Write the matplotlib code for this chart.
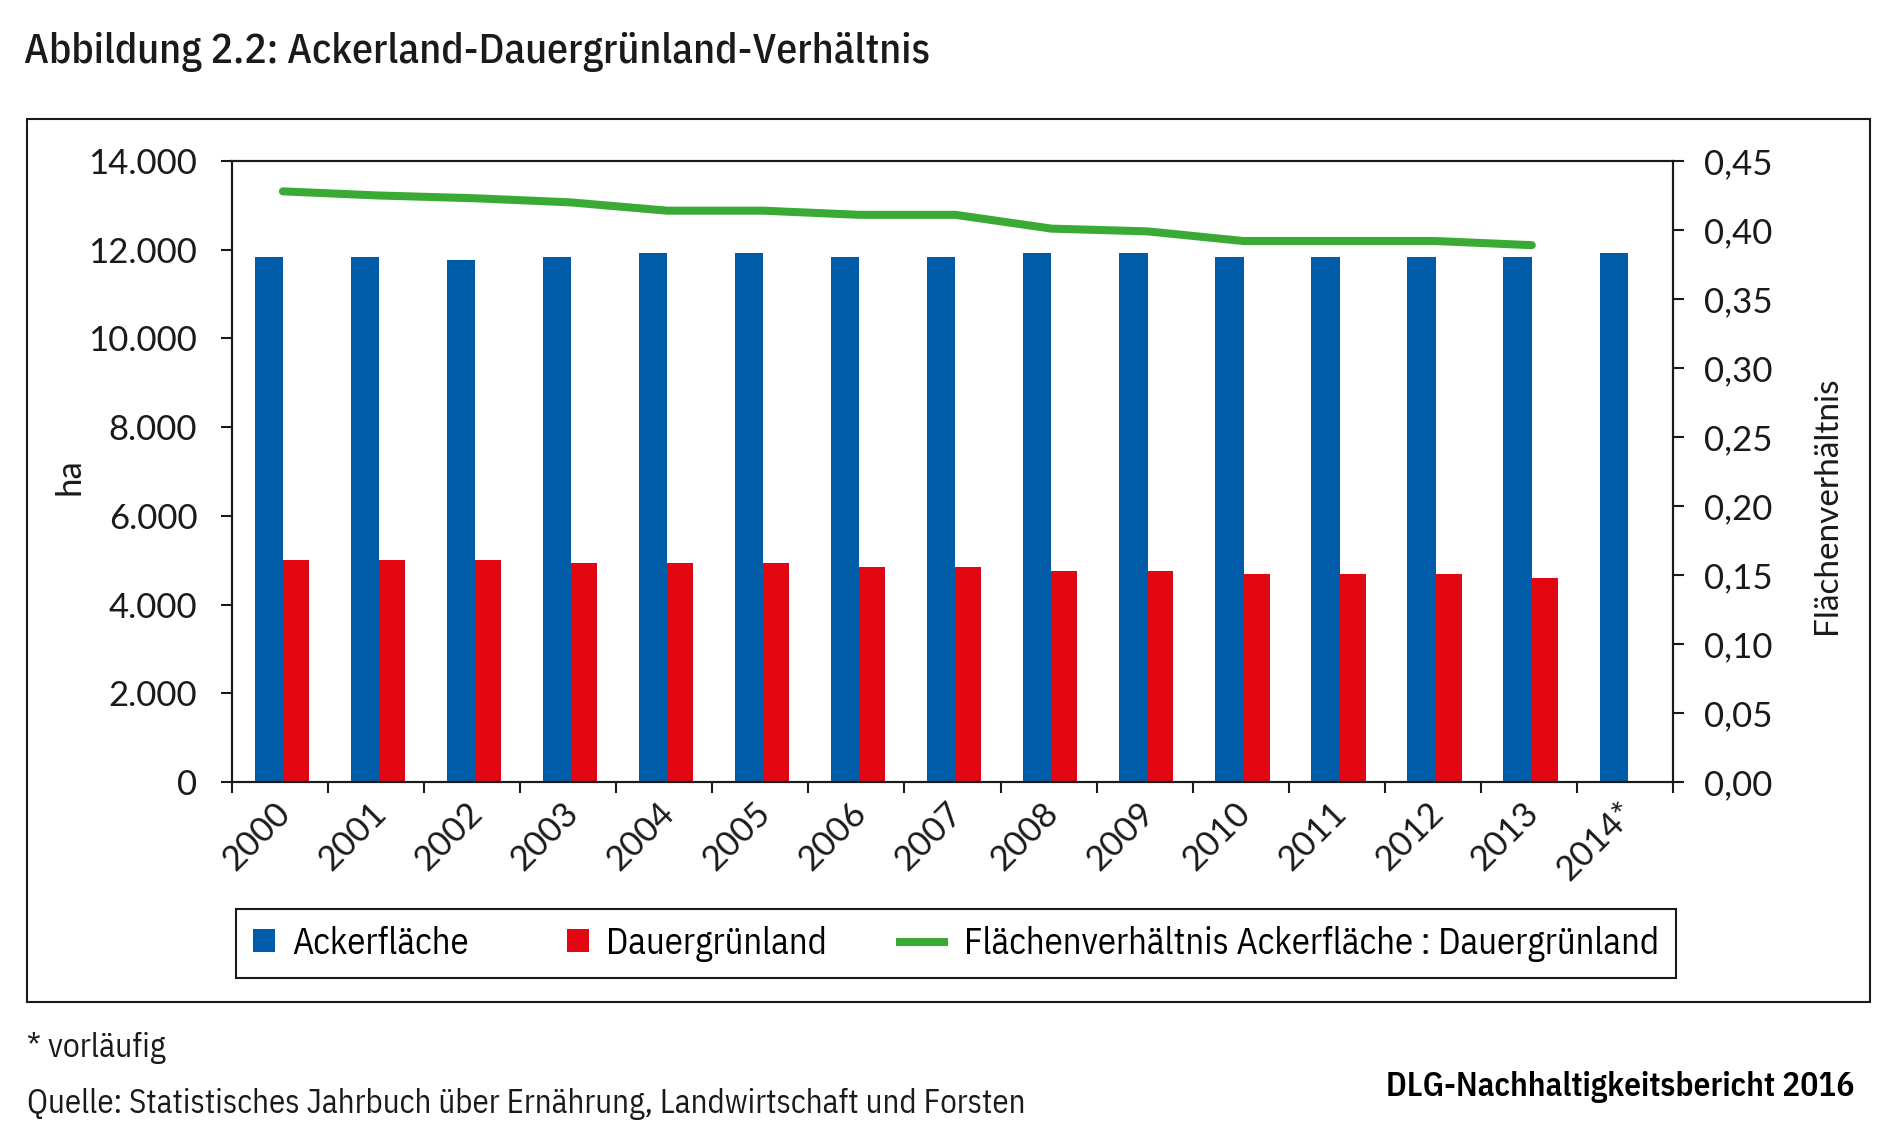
import numpy as np
import matplotlib
matplotlib.use("Agg")
from matplotlib import pyplot as plt
from matplotlib import patches as mpatches
from matplotlib import transforms as mtransforms
from matplotlib.lines import Line2D
from matplotlib.ticker import FuncFormatter

# data
years = ["2000", "2001", "2002", "2003", "2004", "2005", "2006", "2007",
         "2008", "2009", "2010", "2011", "2012", "2013", "2014*"]
ackerflaeche = [11840, 11840, 11760, 11840, 11920, 11920, 11840, 11840,
                11920, 11920, 11840, 11840, 11840, 11840, 11920]
dauergruenland = [5010, 5010, 5010, 4930, 4930, 4930, 4840, 4840,
                  4760, 4760, 4680, 4680, 4680, 4590]
verhaeltnis = [0.428, 0.425, 0.423, 0.420, 0.414, 0.414, 0.411, 0.411,
               0.401, 0.399, 0.392, 0.392, 0.392, 0.389]

BLUE = "#005ca9"
RED = "#e30613"
GREEN = "#3aaa35"
DARK = "#1a1a1a"

NARROW = ["IBM Plex Sans Condensed", "DejaVu Sans"]
TICKFONT = ["Lato", "DejaVu Sans"]

W, H = 1900, 1144
fig = plt.figure(figsize=(W / 100, H / 100), dpi=100)


def fx(px):
    return px / W


def fy(px):
    return 1 - px / H


ax = fig.add_axes([fx(232), fy(782), fx(1673) - fx(232), fy(161) - fy(782)])
x = np.arange(len(years))

ax.bar(x - 0.117, ackerflaeche, width=0.295, color=BLUE, zorder=2)
ax.bar(x[:len(dauergruenland)] + 0.165, dauergruenland, width=0.27, color=RED, zorder=2)

ax.set_xlim(-0.5, len(years) - 0.5)
ax.set_ylim(0, 14000)
ax.set_yticks(range(0, 14001, 2000))
ax.yaxis.set_major_formatter(FuncFormatter(lambda v, p: f"{v:,.0f}".replace(",", ".")))

# tick marks at category borders, labels in the middle
ax.set_xticks(np.arange(-0.5, len(years), 1))
ax.set_xticklabels([])
ax.set_xticks(x, minor=True)
ax.set_xticklabels(years, minor=True)
ax.tick_params(axis="x", which="major", length=8, width=1.5, color=DARK)
ax.tick_params(axis="x", which="minor", length=0, pad=18.5)
shift = mtransforms.ScaledTranslation(5 / 100, 0, fig.dpi_scale_trans)
for lab in ax.get_xticklabels(minor=True):
    lab.set_rotation(45)
    lab.set_ha("right")
    lab.set_va("center")
    lab.set_rotation_mode("anchor")
    lab.set_fontsize(25)
    lab.set_family(TICKFONT)
    lab.set_color(DARK)
    lab.set_transform(lab.get_transform() + shift)

ax.tick_params(axis="y", length=8, width=1.5, pad=17, labelsize=25, color=DARK, labelcolor=DARK)
for lab in ax.get_yticklabels():
    lab.set_family(TICKFONT)

for s in ax.spines.values():
    s.set_linewidth(1.5)
    s.set_color(DARK)

ax2 = ax.twinx()
ax2.plot(x[:len(verhaeltnis)] + 0.03, verhaeltnis, color=GREEN, lw=5.8,
         solid_capstyle="round", zorder=3)
ax2.set_ylim(0, 0.45)
ax2.set_yticks(np.arange(0, 0.451, 0.05))
ax2.yaxis.set_major_formatter(FuncFormatter(lambda v, p: f"{v:.2f}".replace(".", ",")))
ax2.tick_params(axis="y", length=8, width=1.5, pad=14, labelsize=25, color=DARK, labelcolor=DARK)
for lab in ax2.get_yticklabels():
    lab.set_family(TICKFONT)
for s in ax2.spines.values():
    s.set_linewidth(1.5)
    s.set_color(DARK)

# axis titles
fig.text(fx(70), fy(477), "ha", rotation=90, ha="center", va="center",
         fontsize=25, family=TICKFONT, color=DARK)
fig.text(fx(1827), fy(505), "Flächenverhältnis", rotation=90, ha="center", va="center",
         fontsize=24, family=TICKFONT, color=DARK)


# legend: squares fill the short handle box, the line reaches further left
class SquareHandler:
    def legend_artist(self, legend, orig_handle, fontsize, handlebox):
        w, h = handlebox.width, handlebox.height
        sq = mpatches.Rectangle((-handlebox.xdescent, -handlebox.ydescent), w, h,
                                facecolor=orig_handle.get_facecolor(), edgecolor="none")
        handlebox.add_artist(sq)
        return sq


class LineHandler:
    def legend_artist(self, legend, orig_handle, fontsize, handlebox):
        w, h = handlebox.width, handlebox.height
        ln = Line2D([w - 37.5, w], [h / 2, h / 2], color=orig_handle.get_color(),
                    lw=orig_handle.get_linewidth(), solid_capstyle="butt")
        handlebox.add_artist(ln)
        return ln


p_acker = mpatches.Patch(color=BLUE, label="Ackerfläche")
p_gruen = mpatches.Patch(color=RED, label="Dauergrünland")
l_ratio = Line2D([], [], color=GREEN, lw=5.8, label="Flächenverhältnis Ackerfläche : Dauergrünland")
leg = fig.legend(handles=[p_acker, p_gruen, l_ratio], loc="center", ncol=3, mode="expand",
                 bbox_to_anchor=(fx(236), fy(973), fx(1676) - fx(236), fy(914) - fy(973)),
                 bbox_transform=fig.transFigure, borderaxespad=0,
                 prop={"family": NARROW, "size": 26.5}, handlelength=0.62, handleheight=0.62,
                 handletextpad=0.45, borderpad=0.45, fancybox=False,
                 edgecolor=DARK, framealpha=1,
                 handler_map={p_acker: SquareHandler(), p_gruen: SquareHandler(),
                              l_ratio: LineHandler()})
leg.get_frame().set_linewidth(1.5)

# outer frame
fig.add_artist(mpatches.Rectangle((fx(27), fy(1002)), fx(1870) - fx(27), fy(119) - fy(1002),
                                  transform=fig.transFigure, fill=False,
                                  edgecolor=DARK, lw=1.5))

# title and footer
fig.text(fx(24), fy(63), "Abbildung 2.2: Ackerland-Dauergrünland-Verhältnis",
         ha="left", va="baseline", fontsize=30.2, fontweight="medium", family=NARROW, color=DARK)
fig.text(fx(27), fy(1057), "* vorläufig", ha="left", va="baseline",
         fontsize=24, family=NARROW, color=DARK)
fig.text(fx(27), fy(1113), "Quelle: Statistisches Jahrbuch über Ernährung, Landwirtschaft und Forsten",
         ha="left", va="baseline", fontsize=23.6, family=NARROW, color=DARK)
fig.text(fx(1854), fy(1096), "DLG-Nachhaltigkeitsbericht 2016", ha="right", va="baseline",
         fontsize=24, fontweight="semibold", family=NARROW, color="black")

fig.savefig("out.png", dpi=100)
